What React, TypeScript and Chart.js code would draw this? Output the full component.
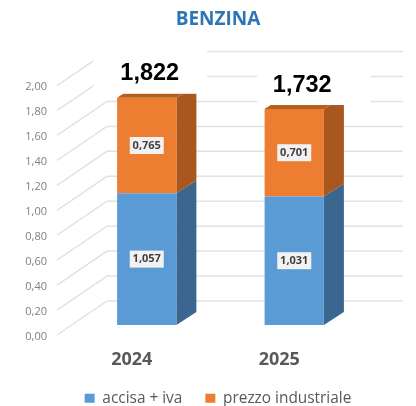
import { useEffect, useRef } from "react";
import { Chart, registerables } from "chart.js";

Chart.register(...registerables);

const categories = ["2024", "2025"];
const accisaIva = [1.057, 1.031];
const prezzoIndustriale = [0.765, 0.701];
const totals = [1.822, 1.732];
const axisTicks = [0, 0.2, 0.4, 0.6, 0.8, 1.0, 1.2, 1.4, 1.6, 1.8, 2.0];

const fmt = (v: number, d: number) => v.toFixed(d).replace(".", ",");
const DX = 20;
const DY = -13;
const WALL_Y = -24;
const SIDE = ["#3A6690", "#A9561F"];
const BOXES = [
  { textDx: 3, left: -53.5, right: 60.5 },
  { textDx: 8, left: -37, right: 76 },
];

const shade = {
  id: "shade",
  beforeDatasetsDraw(chart: any) {
    const { ctx } = chart;
    const y = chart.scales.y;
    ctx.save();
    ctx.strokeStyle = "#E2E2E2";
    ctx.lineWidth = 1.5;
    axisTicks.forEach((t) => {
      const yFront = y.getPixelForValue(t) + 10;
      const yBack = y.getPixelForValue(t) + WALL_Y;
      ctx.beginPath();
      ctx.moveTo(57, yFront);
      ctx.lineTo(107, yBack);
      ctx.lineTo(403, yBack);
      ctx.stroke();
    });
    ctx.restore();
    chart.data.datasets.forEach((_: any, di: number) => {
      chart.getDatasetMeta(di).data.forEach((b: any) => {
        const r = b.x + b.width / 2;
        ctx.fillStyle = SIDE[di];
        ctx.beginPath();
        ctx.moveTo(r, b.base);
        ctx.lineTo(r + DX, b.base + DY);
        ctx.lineTo(r + DX, b.y + DY);
        ctx.lineTo(r, b.y);
        ctx.closePath();
        ctx.fill();
      });
    });
  },
  afterDatasetsDraw(chart: any) {
    const { ctx } = chart;
    const top = chart.getDatasetMeta(1).data;
    top.forEach((b: any, i: number) => {
      const l = b.x - b.width / 2;
      const r = b.x + b.width / 2;
      ctx.fillStyle = "#B35F1E";
      ctx.beginPath();
      ctx.moveTo(l, b.y);
      ctx.lineTo(l + DX, b.y + DY);
      ctx.lineTo(r + DX, b.y + DY);
      ctx.lineTo(r, b.y);
      ctx.closePath();
      ctx.fill();
      const box = BOXES[i];
      ctx.fillStyle = "#FFFFFF";
      ctx.fillRect(b.x + box.left, b.y - 50, box.right - box.left, 46);
      ctx.fillStyle = "#000000";
      ctx.font = "bold 23.5px 'Liberation Sans'";
      ctx.textAlign = "center";
      ctx.textBaseline = "middle";
      ctx.fillText(fmt(totals[i], 3), b.x + box.textDx, b.y - 24);
    });
    chart.data.datasets.forEach((ds: any, di: number) => {
      chart.getDatasetMeta(di).data.forEach((b: any, i: number) => {
        const cy = (b.y + b.base) / 2;
        ctx.fillStyle = "#F2F2F2";
        ctx.fillRect(b.x - 17, cy - 8.5, 34, 17);
        ctx.fillStyle = "#404040";
        ctx.font = "bold 11px 'Open Sans'";
        ctx.textAlign = "center";
        ctx.textBaseline = "middle";
        ctx.fillText(fmt(ds.data[i], 3), b.x, cy);
      });
    });
  },
};

export default function App() {
  const ref = useRef<HTMLCanvasElement>(null);
  useEffect(() => {
    const chart = new Chart(ref.current as HTMLCanvasElement, {
      type: "bar",
      data: {
        labels: categories,
        datasets: [
          { label: "accisa + iva", data: accisaIva, backgroundColor: "#5B9BD5", barPercentage: 0.67, categoryPercentage: 0.6 },
          { label: "prezzo industriale", data: prezzoIndustriale, backgroundColor: "#ED7D31", barPercentage: 0.67, categoryPercentage: 0.6 },
        ],
      },
      options: {
        animation: false,
        responsive: false,
        layout: { padding: { left: 20, right: 0, top: 8.6, bottom: -10 } },
        plugins: {
          title: {
            display: true,
            text: "BENZINA",
            color: "#2E75B6",
            font: { family: "'Open Sans'", size: 19, weight: "bold" },
            padding: { top: 0, bottom: 44.2 },
          },
          legend: {
            position: "bottom",
            labels: {
              boxWidth: 10,
              boxHeight: 9,
              color: "#595959",
              font: { family: "'Open Sans'", size: 15.4 },
              padding: 23,
            },
          },
          tooltip: { enabled: false },
        },
        scales: {
          x: {
            stacked: true,
            grid: { display: false, drawTicks: false },
            border: { display: false },
            afterFit(s: any) { s.height = 42.6; },
            ticks: {
              color: "#595959",
              font: { family: "'Open Sans'", size: 18, weight: "bold" },
              labelOffset: -15,
              padding: 24,
            },
          },
          y: {
            stacked: true,
            min: 0,
            max: 2,
            grid: { display: false, drawTicks: false },
            border: { display: false },
            afterFit(s: any) { s.width = 53; },
            ticks: {
              stepSize: 0.2,
              color: "#7F7F7F",
              font: { family: "'Open Sans'", size: 11 },
              labelOffset: 11.5,
              padding: 26,
              callback: (v: any) => fmt(Number(v), 2),
            },
          },
          y2: {
            position: "right",
            display: true,
            grid: { display: false, drawTicks: false },
            border: { display: false },
            ticks: { display: false },
            afterFit(s: any) { s.width = 48; },
          },
        },
      },
      plugins: [shade],
    } as any);
    return () => chart.destroy();
  }, []);
  return (
    <div style={{ position: "absolute", left: 0, top: 0, width: 416, height: 406 }}>
      <canvas ref={ref} width={416} height={406} style={{ display: "block", filter: "blur(0.4px)" }} />
    </div>
  );
}
